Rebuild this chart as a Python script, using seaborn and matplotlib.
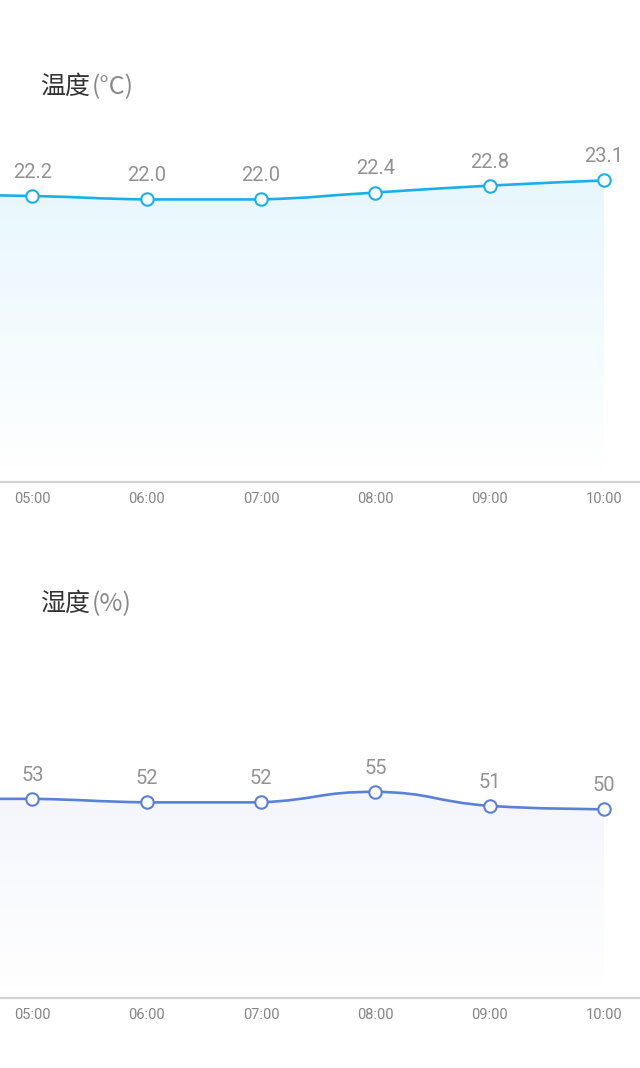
import numpy as np
import pandas as pd
import matplotlib
matplotlib.use("Agg")
import matplotlib.pyplot as plt
from matplotlib.path import Path
from matplotlib.patches import PathPatch
import seaborn as sns

# ------------------------------------------------------------
# data (04:00 sits just off the left edge, the chart is scrolled)
# ------------------------------------------------------------
hours = ["04:00", "05:00", "06:00", "07:00", "08:00", "09:00", "10:00"]
hour_pos = [4, 5, 6, 7, 8, 9, 10]
temp = [22.3, 22.2, 22.0, 22.0, 22.4, 22.8, 23.1]
humidity = [53, 53, 52, 52, 55, 51, 50]
temp_labels = ["22.3", "22.2", "22.0", "22.0", "22.4", "22.8", "23.1"]
hum_labels = ["53", "53", "52", "52", "55", "51", "50"]

sns.set_theme(style="white")
plt.rcParams["font.family"] = ["Roboto", "Noto Sans CJK SC", "DejaVu Sans"]

W, H = 640, 1068
fig = plt.figure(figsize=(W / 100, H / 100), dpi=100)
fig.patch.set_facecolor("white")

XLIM = (4.716, 10.315)


def smooth_path(xs, ys, s=0.25):
    # bezier control points, clamped per segment so the curve never overshoots
    n = len(xs)
    verts = [(xs[0], ys[0])]
    codes = [Path.MOVETO]
    for i in range(n - 1):
        p0 = np.array([xs[i], ys[i]])
        p1 = np.array([xs[i + 1], ys[i + 1]])
        prev = np.array([xs[i - 1], ys[i - 1]]) if i > 0 else p0
        nxt = np.array([xs[i + 2], ys[i + 2]]) if i + 2 < n else p1
        c1 = p0 + (p1 - prev) * s
        c2 = p1 - (nxt - p0) * s
        lo, hi = min(p0[1], p1[1]), max(p0[1], p1[1])
        c1[1] = np.clip(c1[1], lo, hi)
        c2[1] = np.clip(c2[1], lo, hi)
        verts += [tuple(c1), tuple(c2), tuple(p1)]
        codes += [Path.CURVE4] * 3
    return verts, codes


def panel(top_px, bot_px, ylim, df, col, labels, color, fill_rgb, title, unit, title_y):
    ax = fig.add_axes([0, 1 - bot_px / H, 1, (bot_px - top_px) / H])
    ax.set_xlim(*XLIM)
    ax.set_ylim(*ylim)
    ax.patch.set_alpha(0)

    xs = df["pos"].to_numpy(float)
    ys = df[col].to_numpy(float)
    verts, codes = smooth_path(xs, ys)

    # gradient area under the curve
    fverts = verts + [(xs[-1], ylim[0]), (xs[0], ylim[0]), (xs[0], ys[0])]
    fcodes = codes + [Path.LINETO, Path.LINETO, Path.CLOSEPOLY]
    clip = PathPatch(Path(fverts, fcodes), transform=ax.transData,
                     facecolor="none", edgecolor="none")
    ax.add_patch(clip)
    grad = np.zeros((256, 2, 4))
    grad[..., :3] = fill_rgb
    grad[..., 3] = np.linspace(0.12, 0.0, 256)[:, None]
    im = ax.imshow(grad, extent=[XLIM[0], XLIM[1], ylim[0], ylim[1]],
                   aspect="auto", origin="upper", zorder=1)
    im.set_clip_path(clip)

    ax.add_patch(PathPatch(Path(verts, codes), transform=ax.transData,
                           facecolor="none", edgecolor=color, lw=1.9,
                           zorder=3, capstyle="round"))

    sns.scatterplot(data=df, x="pos", y=col, ax=ax, s=80, color="white",
                    edgecolor=color, linewidth=1.5, zorder=4, legend=False,
                    clip_on=False)

    for x, y, lab in zip(xs, ys, labels):
        ax.annotate(lab, (x, y), xytext=(0, 13), textcoords="offset points",
                    ha="center", va="baseline", fontsize=14.5, color="#929292",
                    family="Roboto")

    ax.set_xticks(hour_pos[1:])
    ax.set_xticklabels(hours[1:], fontsize=10.5, color="#858585", family="Roboto")
    ax.tick_params(axis="x", length=0, pad=7.5)
    ax.set_yticks([])
    ax.set_xlabel("")
    ax.set_ylabel("")
    for side in ["top", "left", "right"]:
        ax.spines[side].set_visible(False)
    ax.spines["bottom"].set_color("#d2d2d2")
    ax.spines["bottom"].set_linewidth(1.6)

    # title: dark name followed by a lighter unit
    t = fig.text(40 / W, 1 - title_y / H, title, ha="left", va="center",
                 fontsize=18, color="#333333", family="Noto Sans CJK SC")
    ax.annotate(unit, xy=(1, 0.5), xycoords=t, xytext=(1.5, 0),
                textcoords="offset points", ha="left", va="center",
                fontsize=18, color="#8a8a8a",
                family=["Noto Sans CJK SC", "DejaVu Sans"],
                annotation_clip=False)
    return ax


df_t = pd.DataFrame({"pos": hour_pos, "temp": temp})
df_h = pd.DataFrame({"pos": hour_pos, "hum": humidity})

panel(130, 482, (5.64, 26.02), df_t, "temp", temp_labels, "#19b0e8",
      (0.10, 0.69, 0.91), "温度", "(°C)", 87)
panel(650, 998, (-3.6, 95.3), df_h, "hum", hum_labels, "#5a80d8",
      (0.35, 0.50, 0.85), "湿度", "(%)", 604)

fig.savefig("out.png", dpi=100, facecolor="white")
